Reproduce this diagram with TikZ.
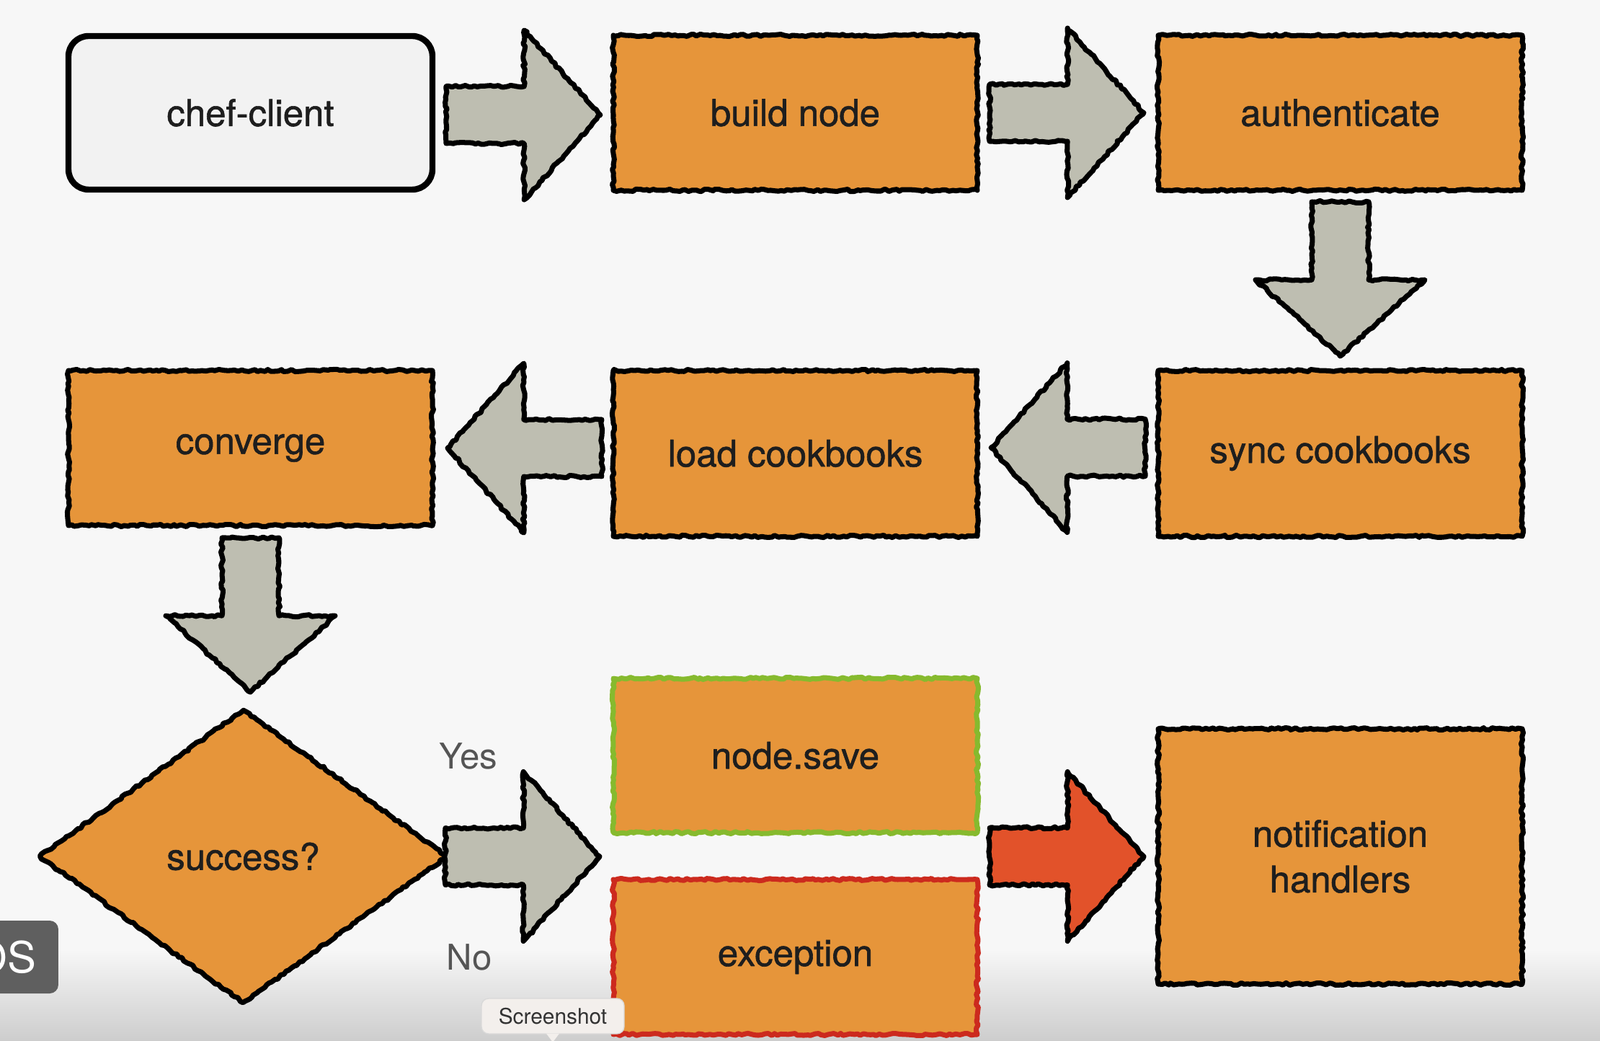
\documentclass[tikz,border=0pt]{standalone}
\usepackage{fontspec}
\setmainfont{TeX Gyre Heros}
\newfontfamily\boxfont{TeX Gyre Heros}[FakeBold=1.2]
\usepackage{xcolor}
\usetikzlibrary{positioning,calc,shapes.geometric,shapes.arrows,decorations.pathmorphing}

\definecolor{boxorange}{HTML}{E6953A}
\definecolor{arrowgray}{HTML}{BEBEB1}
\definecolor{arrowred}{HTML}{E2522A}
\definecolor{okgreen}{HTML}{86BA2E}
\definecolor{failred}{HTML}{CC2A1E}
\definecolor{clientfill}{HTML}{F2F2F2}
\definecolor{textdark}{HTML}{1E1E1E}
\definecolor{answergray}{HTML}{555555}
\definecolor{pagebg}{HTML}{F7F7F7}
\definecolor{pagebottom}{HTML}{CDCDCD}
\definecolor{badgegray}{HTML}{5F5F5F}
\definecolor{tipfill}{HTML}{F3EFEC}

\tikzset{
  rough/.style={decorate, decoration={random steps, segment length=1.3pt, amplitude=0.45pt}},
  plainbox/.style={draw=black, line width=2pt, line join=round, fill=boxorange,
    minimum width=5.05cm, minimum height=2.15cm, inner sep=0pt, outer sep=0pt, text=textdark,
    font=\boxfont\fontsize{14.5}{18}\selectfont, align=center},
  stepbox/.style={plainbox, rough},
  flowarrow/.style={rough, single arrow, draw=black, line width=2pt, line join=round,
    fill=arrowgray, minimum width=2.28cm, minimum height=2.14cm, inner sep=0pt, outer sep=0pt,
    text height=0.72cm, text depth=0pt, single arrow head extend=0.78cm, single arrow tip angle=96,
    anchor=tail},
  answer/.style={text=answergray, font=\fontsize{14}{16}\selectfont},
}

\begin{document}
\begin{tikzpicture}

\fill[pagebg] (-3.475,1.565) rectangle (18.725,-12.875);
\shade[top color=pagebg, bottom color=pagebottom] (-3.475,-11.6) rectangle (18.725,-12.875);
\useasboundingbox (-3.475,1.565) rectangle (18.725,-12.875);

\node(CHEF)  [plainbox, line width=2.4pt, fill=clientfill, rounded corners=0.28cm, minimum height=2.13cm] at (0,0) {chef-client};
\node(BUILD) [stepbox, right=2.51cm of CHEF]  {build node};
\node(AUTH)  [stepbox, right=2.51cm of BUILD] {authenticate};
\node(SYNC)  [stepbox, minimum height=2.3cm, below=2.5cm of AUTH] {sync cookbooks};
\node(LOAD)  [stepbox, minimum height=2.3cm, left=2.51cm of SYNC] {load cookbooks};
\node(CONV)  [stepbox, left=2.51cm of LOAD.north west, anchor=north east] {converge};
\node(SUCC)  [stepbox, diamond, minimum width=5.65cm, minimum height=4.06cm, below=2.56cm of CONV, xshift=-0.1cm] {success?};
\node(SAVE)  [stepbox, draw=okgreen, minimum height=2.14cm, below=1.97cm of LOAD] {node.save};
\node(EXC)   [stepbox, draw=failred, below=0.65cm of SAVE] {exception};
\node(NOTIF) [stepbox, minimum height=3.54cm] at (SYNC |- SUCC) {notification\\handlers};

\node(YES) [answer] at ($(SUCC.east)+(0.3,1.39)$)  {Yes};
\node(NO)  [answer] at ($(SUCC.east)+(0.31,-1.4)$) {No};

\node(A1) [flowarrow] at ($(CHEF.east)+(0.19,-0.03)$) {};
\node(A2) [flowarrow] at ($(BUILD.east)+(0.17,0)$) {};
\node(A3) [flowarrow, rotate=-90] at ($(AUTH.south)+(0,-0.16)$) {};
\node(A4) [flowarrow, rotate=180] at ($(SYNC.west)+(-0.18,0.08)$) {};
\node(A5) [flowarrow, rotate=180] at ($(LOAD.west |- CONV.east)+(-0.16,0)$) {};
\node(A6) [flowarrow, rotate=-90] at ($(CONV.south)+(0,-0.17)$) {};
\node(A7) [flowarrow] at ($(SUCC.east)+(-0.02,0)$) {};
\node(A8) [flowarrow, fill=arrowred] at ($(SAVE.east |- NOTIF.west)+(0.17,0)$) {};

\begin{scope}
\clip (-3.475,1.565) rectangle (18.725,-12.875);
\fill[badgegray, rounded corners=0.12cm] (-4,-11.205) rectangle (-2.665,-12.215);
\node(OSTAG) [text=white, font=\fontsize{17}{20}\selectfont, anchor=east, inner sep=0pt] at (-2.965,-11.71) {OS};
\node(SHOT) [fill=tipfill, draw=black!15, rounded corners=0.1cm, minimum width=1.98cm, minimum height=0.49cm,
  inner sep=0pt, text=black!80, font=\fontsize{8.5}{10}\selectfont] at (4.195,-12.53) {Screenshot};
\fill[tipfill] ($(SHOT.south)+(-0.09,0.01)$) -- ($(SHOT.south)+(0.09,0.01)$) -- ($(SHOT.south)+(0,-0.11)$) -- cycle;
\end{scope}

\end{tikzpicture}
\end{document}
